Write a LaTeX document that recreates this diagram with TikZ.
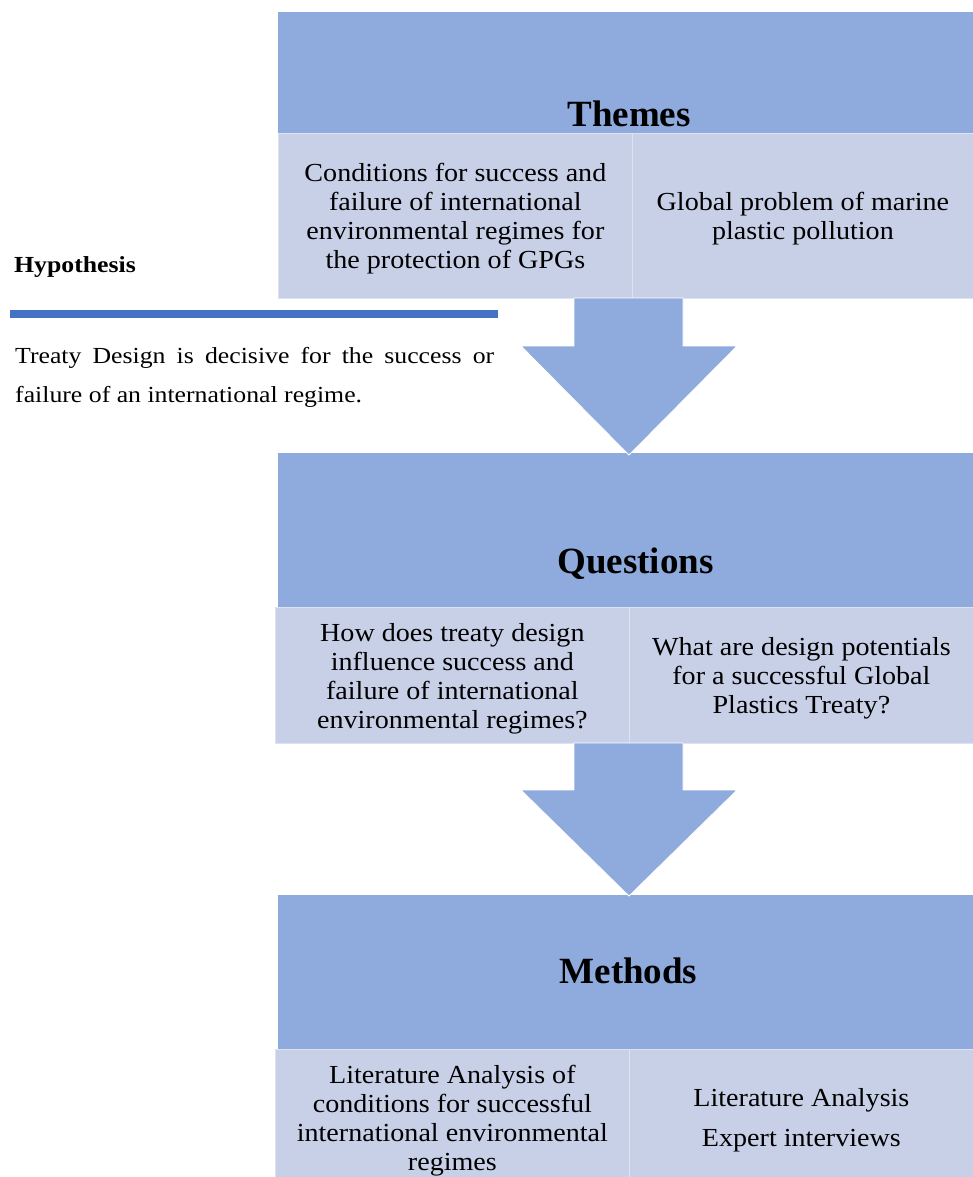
\documentclass[tikz,border=0pt]{standalone}
\usepackage{fontspec}
\setmainfont{Liberation Serif}
\newfontfamily\cellfont[FakeStretch=1.08]{Liberation Serif}
\newfontfamily\hypfont[FakeStretch=1.12]{Liberation Serif}
\usetikzlibrary{calc}
\definecolor{hdrcol}{RGB}{143,170,220}
\definecolor{cellcol}{RGB}{200,208,232}
\definecolor{linecol}{RGB}{68,114,196}
\tikzset{
  header/.style={fill=hdrcol, draw=none, rectangle, inner sep=0pt, anchor=north west},
  cellbox/.style={fill=cellcol, draw=cellcol!60!white, line width=0.8pt, rectangle, inner sep=0pt, anchor=north west},
  celltext/.style={inner sep=0pt, align=center, font=\cellfont\fontsize{26}{29}\selectfont},
  title/.style={anchor=base, inner sep=0pt, font=\fontsize{37}{40}\selectfont\bfseries},
  arrowfill/.style={fill=hdrcol, draw=white, line width=0.8pt},
  hyptext/.style={anchor=base west, inner sep=0pt, font=\hypfont\fontsize{23}{28}\selectfont}
}
\begin{document}
\begin{tikzpicture}[x=1pt,y=-1pt]
\clip (0,0) rectangle (973,1177);
\fill[white] (0,0) rectangle (973,1177);

% Themes
\node[header, minimum width=695pt, minimum height=122pt] (th) at (278,12) {};
\node[title] (tht) at (629,127) {Themes};
\node[cellbox, minimum width=354pt, minimum height=165pt] (t1) at (278,133) {};
\node[cellbox, minimum width=341pt, minimum height=165pt] (t2) at (632,133) {};
\node[celltext] (t1t) at ([yshift=-3pt]t1.center)
  {Conditions for success and\\failure of international\\environmental regimes for\\the protection of GPGs};
\node[celltext] (t2t) at ([yshift=-3pt]t2.center)
  {Global problem of marine\\plastic pollution};

% Questions
\node[header, minimum width=695pt, minimum height=155pt] (qh) at (278,453) {};
\node[title] (qht) at (635.5,573) {Questions};
\node[cellbox, minimum width=354pt, minimum height=136pt] (q1) at (275,607) {};
\node[cellbox, minimum width=344pt, minimum height=136pt] (q2) at (629,607) {};
\node[celltext] (q1t) at ([yshift=-3pt]q1.center)
  {How does treaty design\\influence success and\\failure of international\\environmental regimes?};
\node[celltext] (q2t) at ([yshift=-3pt]q2.center)
  {What are design potentials\\for a successful Global\\Plastics Treaty?};

% Methods
\node[header, minimum width=695pt, minimum height=155pt] (mh) at (278,895) {};
\node[title] (mht) at (628.5,983) {Methods};
\node[cellbox, minimum width=354pt, minimum height=137pt] (m1) at (275,1049) {};
\node[cellbox, minimum width=344pt, minimum height=137pt] (m2) at (629,1049) {};
\node[celltext] (m1t) at ([yshift=-3pt]m1.center)
  {Literature Analysis of\\conditions for successful\\international environmental\\regimes};
\node[celltext] (m2t) at ([yshift=-2pt]m2.center)
  {Literature Analysis\\[11pt]Expert interviews};

% Arrows
\coordinate (a1s) at (628.5,298);
\coordinate (a1e) at (629,455);
\filldraw[arrowfill] ($(a1s)+(-54.5,0)$) -- ($(a1s)+(54.5,0)$) -- ($(a1s)+(54.5,48)$)
  -- ($(a1s)+(108.5,48)$) -- (a1e) -- ($(a1s)+(-107.5,48)$) -- ($(a1s)+(-54.5,48)$) -- cycle;
\coordinate (a2s) at (628.5,743);
\coordinate (a2e) at (629,896);
\filldraw[arrowfill] ($(a2s)+(-54.5,0)$) -- ($(a2s)+(54.5,0)$) -- ($(a2s)+(54.5,47)$)
  -- ($(a2s)+(108.5,47)$) -- (a2e) -- ($(a2s)+(-107.5,47)$) -- ($(a2s)+(-54.5,47)$) -- cycle;

% Hypothesis
\node[hyptext, font=\hypfont\fontsize{23}{28}\selectfont\bfseries] (hyp) at (14,272) {Hypothesis};
\coordinate (l1) at (10,314);
\coordinate (l2) at (498,314);
\draw[linecol, line width=7.5pt] (l1) -- (l2);
\node[hyptext] (h1) at (15,363) {\makebox[479pt][s]{Treaty Design is decisive for the success or}};
\node[hyptext] (h2) at (15,402) {failure of an international regime.};
\end{tikzpicture}
\end{document}
